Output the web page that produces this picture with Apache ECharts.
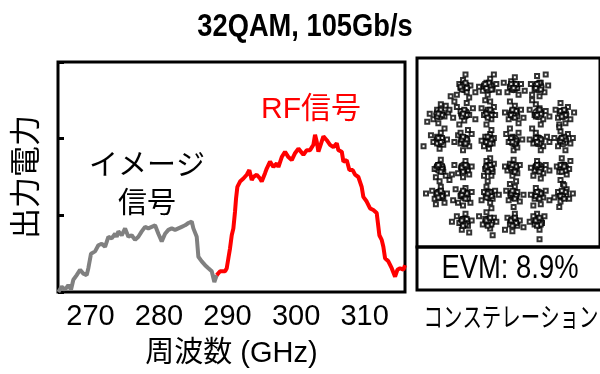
<!DOCTYPE html>
<html><head><meta charset="utf-8">
<script src="https://cdn.jsdelivr.net/npm/echarts@6/dist/echarts.min.js"></script>
<style>html,body{margin:0;padding:0;background:#fff}#c{width:600px;height:374px}</style>
</head><body><div id="c"></div>
<script>
const LAT = "'Liberation Sans Narrow','Liberation Sans','Noto Sans CJK JP',sans-serif";
const CJK = "'Noto Sans CJK JP','Liberation Sans',sans-serif";

const titleText = '32QAM, 105Gb/s';
const xTickLabels = [270, 280, 290, 300, 310];
const xName = '周波数 (GHz)';
const yName = '出力電力';
const imageLabel = 'イメージ\n信号';
const rfLabel = 'RF信号';
const evmLabel = 'EVM: 8.9%';
const constLabel = 'コンステレーション';

// Image (gray) spectrum
const imageSpectrum = [[265.30,0.00],[265.79,0.07],[266.28,0.03],[266.76,0.09],[267.15,0.03],[267.49,0.16],[267.98,0.22],[268.47,0.29],[268.95,0.24],[269.44,0.22],[269.68,0.31],[270.07,0.50],[270.66,0.53],[271.14,0.61],[271.63,0.63],[272.12,0.59],[272.60,0.72],[273.09,0.70],[273.58,0.76],[273.82,0.72],[274.06,0.79],[274.55,0.74],[275.04,0.83],[275.52,0.72],[276.01,0.74],[276.50,0.68],[276.98,0.72],[277.47,0.79],[277.96,0.85],[278.44,0.83],[278.93,0.85],[279.42,0.87],[279.90,0.76],[280.39,0.66],[280.88,0.76],[281.36,0.81],[281.85,0.83],[282.34,0.81],[282.82,0.83],[283.31,0.85],[283.80,0.87],[284.28,0.90],[284.77,0.92],[285.01,0.83],[285.50,0.72],[285.74,0.46],[286.23,0.40],[286.72,0.35],[287.20,0.31],[287.69,0.27],[288.07,0.13],[288.42,0.22]];

// RF (red) spectrum
const rfSpectrum = [[288.42,0.22],[288.91,0.27],[289.64,0.27],[289.88,0.31],[290.12,0.44],[290.36,0.57],[290.61,0.74],[290.85,0.83],[291.09,1.05],[291.24,1.22],[291.43,1.37],[291.82,1.44],[292.31,1.48],[292.80,1.53],[293.18,1.59],[293.53,1.46],[293.77,1.50],[294.26,1.53],[294.74,1.48],[294.99,1.44],[295.47,1.55],[295.72,1.61],[296.20,1.70],[296.69,1.63],[297.18,1.68],[297.42,1.63],[297.91,1.76],[298.39,1.83],[298.88,1.76],[299.37,1.72],[299.85,1.81],[300.34,1.87],[300.58,1.87],[301.07,1.79],[301.56,1.85],[302.04,1.85],[302.53,1.92],[302.77,2.05],[303.02,1.96],[303.26,1.83],[303.50,1.85],[303.99,2.03],[304.48,1.98],[304.96,1.92],[305.45,1.89],[305.94,1.94],[306.18,1.85],[306.67,1.83],[306.91,1.70],[307.40,1.72],[307.78,1.59],[308.27,1.59],[308.61,1.53],[309.09,1.50],[309.58,1.37],[309.82,1.24],[310.31,1.18],[310.80,1.09],[311.28,1.07],[311.77,1.03],[312.16,0.74],[312.50,0.68],[312.74,0.59],[312.99,0.44],[313.47,0.40],[313.96,0.31],[314.45,0.20],[314.79,0.29],[315.18,0.31],[315.66,0.29],[315.91,0.35]];

// 32QAM ideal constellation points
const idealPoints = [[-3,5],[-1,5],[1,5],[3,5],
 [-5,3],[-3,3],[-1,3],[1,3],[3,3],[5,3],
 [-5,1],[-3,1],[-1,1],[1,1],[3,1],[5,1],
 [-5,-1],[-3,-1],[-1,-1],[1,-1],[3,-1],[5,-1],
 [-5,-3],[-3,-3],[-1,-3],[1,-3],[3,-3],[5,-3],
 [-3,-5],[-1,-5],[1,-5],[3,-5]];

// received symbols, spread part
const receivedSpread = [
[-3.4,5.2],[-2.8,4.6],[-3.1,5.5],[-2.5,5.1],[-3.6,4.4],[-2.9,5.9],[-3.3,4.9],[-4.1,4.3],[-2.6,4.2],[-3.8,3.9],
[-1.2,5.3],[-0.7,4.8],[-1.5,4.7],[-0.9,5.6],[-1.8,5.0],[-0.4,5.2],[-1.1,4.4],[-2.1,4.6],[-0.6,5.9],[-1.4,5.1],[-0.2,4.6],
[0.8,5.4],[1.3,4.9],[0.5,4.6],[1.1,5.7],[1.6,5.2],[0.7,5.0],[1.4,4.4],[0.2,5.3],[1.9,4.7],
[3.2,5.3],[2.7,4.8],[3.5,4.6],[2.9,5.8],[3.8,5.1],[2.4,5.2],[3.1,4.3],[3.6,5.9],[2.5,4.4],
[-5.2,3.3],[-4.6,2.8],[-5.5,2.6],[-4.9,3.7],[-4.3,3.1],[-5.8,3.0],[-5.1,2.3],[-4.5,3.6],[-6.0,2.4],
[-3.3,3.2],[-2.6,2.9],[-3.0,2.5],[-3.6,3.5],[-2.3,3.4],[-3.9,2.7],[-2.8,3.8],[-3.4,2.2],[-2.1,2.6],[-4.2,3.3],
[-1.1,3.3],[-0.8,2.6],[-1.4,2.9],[-0.6,3.5],[-1.2,2.2],[-0.9,3.9],[-1.6,3.4],[-0.5,2.9],[-1.3,4.0],
[0.9,3.2],[1.3,2.8],[0.6,2.6],[1.1,3.6],[1.6,3.3],[0.7,3.9],[1.4,2.3],[0.3,3.1],[1.8,2.7],
[3.1,3.4],[2.7,2.9],[3.4,2.6],[2.8,3.7],[3.6,3.2],[2.3,3.3],[3.2,2.2],[3.9,2.8],[2.5,4.0],
[5.1,3.2],[4.6,2.7],[5.4,3.5],[4.8,3.8],[5.6,2.6],[4.4,3.3],[5.2,2.3],[5.9,3.1],[4.7,2.2],
[-5.2,1.3],[-4.7,0.7],[-5.5,0.9],[-4.9,1.6],[-4.4,1.1],[-5.7,1.4],[-5.0,0.4],[-6.3,0.6],[-4.6,1.9],
[-2.9,1.2],[-3.3,0.8],[-2.6,0.6],[-3.5,1.4],[-2.4,1.5],[-3.1,0.3],[-3.8,0.9],[-2.7,1.8],[-3.3,1.6],
[-1.1,1.1],[-0.7,0.8],[-1.4,0.6],[-0.9,1.5],[-1.3,1.3],[-0.6,1.2],[-1.0,0.4],[-1.6,1.0],[-0.8,1.8],
[0.9,1.3],[1.2,0.7],[0.6,0.9],[1.4,1.6],[0.4,1.5],[1.0,0.3],[1.7,1.1],[0.7,1.9],[1.3,0.5],
[3.0,1.2],[2.6,0.8],[3.4,0.6],[2.8,1.6],[3.7,1.3],[2.3,1.1],[3.2,0.3],[2.5,1.9],[3.9,0.9],
[5.0,1.1],[4.6,0.6],[5.4,1.5],[4.8,1.7],[5.6,0.8],[4.3,1.2],[5.2,0.3],[4.7,2.0],[5.8,1.2],
[-5.1,-0.8],[-4.7,-1.3],[-5.4,-1.1],[-4.9,-0.4],[-4.5,-1.6],[-5.3,-1.7],[-4.8,-0.9],[-4.2,-1.9],[-5.0,-2.0],
[-3.2,-0.9],[-2.7,-1.2],[-3.5,-1.4],[-2.9,-0.5],[-3.8,-0.8],[-2.4,-0.9],[-3.1,-1.7],[-4.0,-1.5],[-2.6,-1.5],
[-1.0,-0.8],[-0.7,-1.3],[-1.3,-1.1],[-0.9,-0.3],[-1.4,-1.6],[-0.6,-0.7],[-1.1,-2.0],[-0.8,-1.6],[-1.2,-0.5],
[1.1,-1.0],[0.7,-0.7],[1.3,-1.4],[0.9,-1.6],[0.5,-1.2],[1.5,-0.8],[1.0,-0.4],[0.3,-0.9],[1.2,-2.0],
[3.1,-0.9],[2.7,-1.2],[3.4,-1.4],[2.9,-0.5],[3.6,-0.8],[2.4,-1.0],[3.2,-1.8],[2.6,-1.6],[3.9,-1.2],
[5.1,-0.8],[4.7,-1.3],[5.3,-1.5],[4.9,-0.3],[4.5,-0.9],[5.5,-1.1],[4.8,-1.9],[5.0,-2.2],[5.6,-0.5],
[-5.1,-2.8],[-4.7,-3.2],[-5.4,-3.3],[-4.9,-2.4],[-4.4,-2.9],[-5.3,-3.7],[-4.6,-3.6],[-6.1,-2.9],[-5.6,-2.7],
[-3.0,-2.9],[-2.7,-3.3],[-3.3,-3.1],[-2.9,-2.5],[-3.5,-3.6],[-2.4,-2.8],[-3.1,-3.8],[-2.5,-3.6],[-3.7,-2.6],[-3.9,-3.4],
[-1.1,-3.0],[-0.7,-3.3],[-1.4,-2.8],[-0.9,-3.6],[-1.2,-2.4],[-0.5,-2.7],[-1.6,-3.4],[-0.8,-4.0],[-0.2,-3.0],
[0.9,-3.1],[1.3,-2.8],[0.6,-3.4],[1.1,-2.4],[1.5,-3.5],[0.4,-2.7],[1.0,-3.9],[1.8,-3.0],[0.7,-2.2],
[3.1,-2.9],[2.7,-3.3],[3.4,-3.2],[2.8,-2.5],[3.6,-2.7],[2.4,-3.0],[3.2,-3.7],[3.9,-3.4],[2.6,-3.8],
[5.0,-3.1],[4.6,-2.8],[5.3,-2.6],[4.8,-3.5],[5.5,-3.3],[4.3,-3.2],[5.1,-2.3],[4.7,-3.9],[5.8,-2.9],
[-3.1,-4.8],[-2.7,-5.3],[-3.4,-5.1],[-2.9,-4.4],[-3.6,-4.6],[-2.4,-4.9],[-3.2,-5.6],[-4.0,-5.0],[-2.6,-5.8],
[-1.0,-5.1],[-0.6,-4.7],[-1.3,-4.8],[-0.9,-5.5],[-1.5,-5.2],[-0.4,-5.0],[-1.2,-4.3],[-0.7,-6.0],[-1.8,-4.6],
[1.0,-4.9],[1.3,-5.3],[0.7,-5.2],[1.1,-4.4],[0.5,-4.7],[1.5,-4.9],[0.9,-5.7],[1.8,-5.4],[0.3,-5.6],
[3.0,-4.8],[2.7,-5.2],[3.3,-5.1],[2.9,-4.4],[3.5,-4.6],[2.6,-4.6],[3.1,-5.6],[2.3,-5.0],[3.1,-6.3]
];

// received symbols, dense core part of each cluster
const receivedCore = [
[-3.1,5.1],[-2.8,4.9],[-3.2,4.8],[-2.9,5.3],[-3.3,5.0],
[-0.9,5.1],[-1.2,4.9],[-1.0,5.3],[-0.8,4.8],[-1.3,5.2],
[1.1,5.1],[0.9,4.8],[1.2,5.2],[0.8,5.2],[1.0,4.9],
[3.0,5.1],[2.8,4.9],[3.2,4.8],[3.1,5.3],[2.9,5.2],
[-5.0,3.1],[-4.8,2.9],[-5.2,2.8],[-4.9,3.3],[-5.1,3.0],
[-2.9,3.1],[-3.2,2.8],[-3.0,3.3],[-2.8,2.9],[-3.1,3.0],
[-1.0,3.1],[-0.8,2.9],[-1.2,3.0],[-0.9,3.3],[-1.1,2.7],
[1.0,3.0],[1.2,3.2],[0.8,2.9],[1.1,2.7],[0.9,3.3],
[3.0,3.1],[2.8,2.8],[3.2,3.0],[3.1,3.3],[2.9,2.9],
[5.0,3.0],[4.8,3.2],[5.2,2.9],[4.9,2.8],[5.1,3.3],
[-5.0,1.0],[-4.8,1.2],[-5.2,0.8],[-4.9,0.9],[-5.1,1.2],
[-3.0,0.9],[-2.8,1.1],[-3.2,1.1],[-3.1,1.3],[-2.9,0.8],
[-1.0,1.0],[-1.2,0.9],[-0.8,1.1],[-1.1,1.3],[-0.9,0.8],
[1.0,1.1],[1.2,1.0],[0.8,1.2],[1.1,0.8],[0.9,0.9],
[3.0,1.0],[2.8,1.2],[3.2,1.1],[3.1,0.8],[2.9,0.9],
[5.0,0.9],[4.8,1.0],[5.2,1.1],[5.1,1.3],[4.9,1.2],
[-5.0,-1.0],[-4.8,-1.1],[-5.2,-0.9],[-4.9,-1.3],[-5.1,-0.8],
[-3.0,-1.1],[-2.8,-0.9],[-3.2,-1.0],[-3.1,-1.3],[-2.9,-0.8],
[-1.0,-1.0],[-0.8,-1.1],[-1.2,-0.9],[-1.1,-1.3],[-0.9,-0.8],
[1.0,-1.1],[1.2,-0.9],[0.8,-1.0],[1.1,-1.3],[0.9,-0.8],
[3.0,-1.0],[2.8,-0.9],[3.2,-1.1],[3.1,-1.3],[2.9,-0.8],
[5.0,-1.0],[4.8,-0.8],[5.2,-1.2],[5.1,-0.9],[4.9,-1.3],
[-5.0,-3.0],[-4.8,-3.1],[-5.2,-2.9],[-4.9,-2.7],[-5.1,-3.2],
[-3.0,-3.1],[-2.8,-2.9],[-3.2,-3.0],[-3.1,-2.7],[-2.9,-3.3],
[-1.0,-3.0],[-0.8,-3.1],[-1.2,-3.2],[-0.9,-2.8],[-1.1,-2.9],
[1.0,-3.0],[1.2,-3.1],[0.8,-2.9],[1.1,-3.3],[0.9,-2.7],
[3.0,-3.0],[2.8,-3.1],[3.2,-2.9],[3.1,-3.3],[2.9,-2.8],
[5.0,-3.0],[4.8,-3.1],[5.2,-2.8],[4.9,-2.7],[5.1,-3.3],
[-3.0,-5.0],[-2.8,-4.8],[-3.2,-4.9],[-2.9,-5.2],[-3.1,-5.3],
[-1.0,-5.0],[-0.8,-5.2],[-1.2,-4.9],[-0.9,-4.7],[-1.1,-5.3],
[1.0,-5.0],[0.8,-4.9],[1.2,-5.1],[1.1,-4.7],[0.9,-5.3],
[3.0,-5.0],[2.8,-4.9],[3.2,-5.2],[2.9,-5.3],[3.1,-4.7]
];

const chart = echarts.init(document.getElementById('c'), null, {renderer: 'canvas'});
const txt = (extra) => Object.assign({fill: '#000', align: 'center', verticalAlign: 'middle', textAlign: 'center', textVerticalAlign: 'middle'}, extra);
chart.setOption({
  animation: false,
  backgroundColor: '#fff',
  grid: [
    {left: 58, top: 62, width: 347, height: 230, show: true, borderColor: '#000', borderWidth: 3, backgroundColor: 'transparent'},
    {left: 417, top: 58, width: 200, height: 189, show: true, borderColor: '#000', borderWidth: 3, backgroundColor: 'transparent'}
  ],
  xAxis: [
    {gridIndex: 0, type: 'value', min: 265.25, max: 315.9,
     axisLine: {show: false}, axisTick: {show: false}, splitLine: {show: false},
     axisLabel: {customValues: xTickLabels, fontFamily: LAT, fontSize: 29, color: '#000', margin: 11},
     name: xName, nameLocation: 'middle', nameGap: 48,
     nameTextStyle: {fontFamily: LAT, fontSize: 29, color: '#000'}},
    {gridIndex: 1, type: 'value', min: -6.83, max: 8.0, show: false}
  ],
  yAxis: [
    {gridIndex: 0, type: 'value', min: 0, max: 3, interval: 1,
     axisLine: {show: false}, axisLabel: {show: false}, splitLine: {show: false},
     axisTick: {show: true, inside: true, length: 6, lineStyle: {color: '#000', width: 3}},
     name: yName, nameLocation: 'middle', nameGap: 18, nameRotate: 90,
     nameTextStyle: {fontFamily: CJK, fontSize: 31, color: '#000'}},
    {gridIndex: 1, type: 'value', min: -6.87, max: 7.13, show: false}
  ],
  series: [
    {type: 'line', name: 'image', xAxisIndex: 0, yAxisIndex: 0, data: imageSpectrum,
     showSymbol: false, lineStyle: {color: '#808080', width: 4}, z: 3},
    {type: 'line', name: 'rf', xAxisIndex: 0, yAxisIndex: 0, data: rfSpectrum,
     showSymbol: false, lineStyle: {color: '#ff0000', width: 4}, z: 4},
    {type: 'scatter', name: 'ideal', xAxisIndex: 1, yAxisIndex: 1, data: idealPoints,
     symbol: 'emptyCircle', symbolSize: 11, itemStyle: {color: '#000', borderColor: '#000', borderWidth: 1}},
    {type: 'scatter', name: 'received', xAxisIndex: 1, yAxisIndex: 1, data: receivedSpread,
     symbol: 'emptyRect', symbolSize: 4, itemStyle: {color: '#000', borderColor: '#000', borderWidth: 1}},
    {type: 'scatter', name: 'receivedCore', xAxisIndex: 1, yAxisIndex: 1, data: receivedCore,
     symbol: 'emptyRect', symbolSize: 4, itemStyle: {color: '#000', borderColor: '#000', borderWidth: 1.4}}
  ],
  graphic: [
    {type: 'text', x: 305, y: 27, scaleX: 0.88, style: txt({text: titleText, fontFamily: LAT, fontWeight: 'bold', fontSize: 31})},
    {type: 'text', x: 147, y: 183, style: txt({text: imageLabel, fontFamily: CJK, fontSize: 29, lineHeight: 38})},
    {type: 'text', x: 311, y: 110, style: txt({text: rfLabel, fontFamily: LAT, fontSize: 30, fill: '#ff0000'})},
    {type: 'rect', shape: {x: 417, y: 247, width: 200, height: 43}, style: {fill: 'none', stroke: '#000', lineWidth: 3}},
    {type: 'text', x: 510, y: 269, scaleX: 0.83, style: txt({text: evmLabel, fontFamily: LAT, fontSize: 33})},
    {type: 'text', x: 511, y: 317, scaleX: 0.72, style: txt({text: constLabel, fontFamily: CJK, fontSize: 27})}
  ]
});
</script></body></html>
